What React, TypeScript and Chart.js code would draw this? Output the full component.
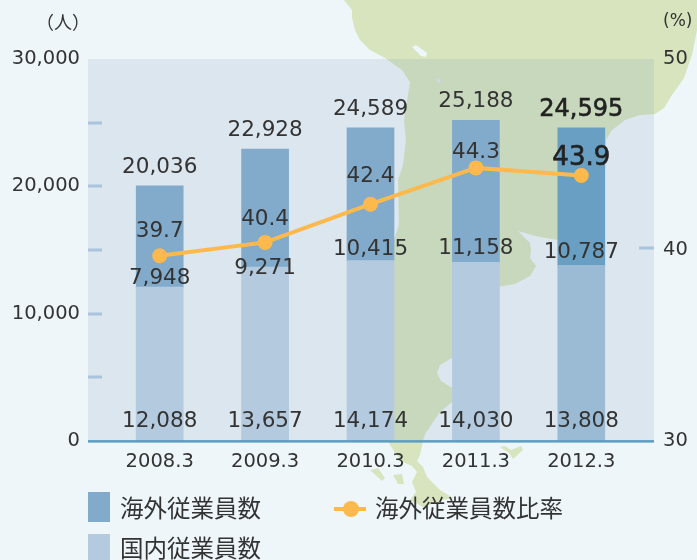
import React, { useEffect, useRef } from "react";
import { Chart, registerables } from "chart.js";

Chart.register(...registerables);

const categories = ["2008.3", "2009.3", "2010.3", "2011.3", "2012.3"];
const domestic = [12088, 13657, 14174, 14030, 13808];
const overseas = [7948, 9271, 10415, 11158, 10787];
const totals = [20036, 22928, 24589, 25188, 24595];
const ratio = [39.7, 40.4, 42.4, 44.3, 43.9];

const LAT = "'DejaVu Sans', sans-serif";
const CJK = "'Noto Sans CJK JP', sans-serif";
const INK = "#333333";

const fmt = (n: number) => n.toLocaleString("en-US");

function land(ctx: CanvasRenderingContext2D) {
  const poly = (pts: number[][]) => {
    ctx.beginPath();
    pts.forEach(([x, y], i) => (i ? ctx.lineTo(x, y) : ctx.moveTo(x, y)));
    ctx.closePath();
    ctx.fill();
  };
  ctx.fillStyle = "#d7e4bd";
  poly([
    [344, 0], [697, 0], [697, 30], [692, 55], [684, 78], [672, 95], [664, 108], [655, 114], [640, 115],
    [625, 120], [612, 130], [606, 140], [605, 172], [600, 180], [575, 238], [558, 240], [535, 236], [518, 231],
    [530, 243], [531, 250], [530, 258], [536, 266], [530, 276], [515, 284], [480, 290], [452, 358], [440, 365],
    [437, 373], [441, 381], [452, 388], [452, 402], [440, 412], [425, 434], [423, 441], [420, 455], [417, 461],
    [423, 467], [427, 477], [440, 490], [453, 498], [443, 500], [423, 507], [410, 500], [416, 492], [412, 482],
    [417, 472], [412, 466], [403, 462], [395, 453], [388, 441], [388, 300], [394, 240], [399, 225], [398, 180],
    [403, 165], [406, 140], [404, 120], [408, 95], [410, 82], [402, 70], [385, 58], [370, 50], [360, 40],
    [355, 30], [352, 18], [352, 10],
  ]);
  poly([[370, 470], [378, 468], [385, 478], [382, 481]]);
  poly([[393, 475], [402, 474], [404, 484], [398, 484]]);
  poly([[500, 447], [505, 446], [511, 450], [521, 446], [523, 450], [513, 459], [509, 453]]);
  ctx.fillStyle = "#eef6fa";
  poly([[412, 47], [416, 45], [427, 53], [426, 57], [421, 56]]);
  ctx.fillStyle = "#dbe7ef";
  poly([[436, 79], [439, 78], [441, 82], [438, 83]]);
}

const decor = {
  id: "decor",
  beforeDraw(chart: any) {
    const { ctx, scales } = chart;
    const yl = scales.y;
    const yr = scales.y1;
    ctx.save();
    ctx.fillStyle = "#eef6fa";
    ctx.fillRect(0, 0, chart.width, chart.height);
    land(ctx);
    ctx.fillStyle = "rgba(132,163,189,0.18)";
    const top = yl.getPixelForValue(30000);
    const bot = yl.getPixelForValue(0);
    ctx.fillRect(88, top, 566, bot - top);
    ctx.fillStyle = "#a9c4dc";
    [5000, 10000, 15000, 20000, 25000].forEach((v) => {
      ctx.fillRect(88, Math.round(yl.getPixelForValue(v)) - 1.5, 14, 3);
    });
    ctx.fillRect(639, Math.round(yr.getPixelForValue(40)) - 3.5, 15, 3);
    ctx.restore();
  },
  afterDatasetsDraw(chart: any) {
    const { ctx, scales } = chart;
    const yl = scales.y;
    const yr = scales.y1;
    const bot = yl.getPixelForValue(0);
    ctx.save();
    ctx.fillStyle = "#5c9dc2";
    ctx.fillRect(88, bot - 1, 566, 2.5);

    const text = (s: string, x: number, y: number, font: string, color = INK, align: CanvasTextAlign = "center", heavy = false) => {
      ctx.font = font;
      ctx.fillStyle = color;
      ctx.textAlign = align;
      ctx.textBaseline = "middle";
      ctx.fillText(s, x, y);
      if (heavy) {
        ctx.strokeStyle = color;
        ctx.lineWidth = 0.6;
        ctx.strokeText(s, x, y);
      }
    };

    const xs = chart.getDatasetMeta(0).data.map((e: any) => e.x);
    const lastIdx = categories.length - 1;
    // offsets of the in-bar figures follow the reference's hand placement
    const overseasShift = [-8.5, 1.5, -11.5, -13.5, -12.5];
    const ratioShift = [-24, -22.5, -27.5, -15.5, -17];
    categories.forEach((_, i) => {
      const bold = i === lastIdx;
      text(
        fmt(totals[i]),
        xs[i],
        yl.getPixelForValue(totals[i]) - 18.5,
        bold ? `24px ${LAT}` : `21.5px ${LAT}`,
        bold ? "#222222" : INK,
        "center",
        bold,
      );
      text(fmt(overseas[i]), xs[i], yl.getPixelForValue(domestic[i]) + overseasShift[i], `21.5px ${LAT}`);
      text(fmt(domestic[i]), xs[i], bot - 20, `21.5px ${LAT}`);
      text(
        ratio[i].toFixed(1),
        xs[i],
        yr.getPixelForValue(ratio[i]) + ratioShift[i],
        bold ? `26px ${LAT}` : `21.5px ${LAT}`,
        bold ? "#222222" : INK,
        "center",
        bold,
      );
    });

    text("（人）", 90, 22, `18px ${CJK}`, INK, "right");
    text("(%)", 663, 22, `17px ${LAT}`, INK, "left");

    // legend, taken from the datasets' own labels and colours
    const ds = chart.data.datasets;
    const barOver = ds[1];
    const barDom = ds[0];
    const line = ds[2];
    ctx.fillStyle = "#82aacb";
    ctx.fillRect(88, 492, 22, 30);
    ctx.fillStyle = "#b3cadf";
    ctx.fillRect(88, 534, 22, 30);
    text(barOver.label, 120, 508, `23.5px ${CJK}`, INK, "left");
    text(barDom.label, 120, 548, `23.5px ${CJK}`, INK, "left");
    ctx.fillStyle = line.borderColor;
    ctx.fillRect(334, 507, 32, 4);
    ctx.beginPath();
    ctx.arc(351, 509, 8, 0, Math.PI * 2);
    ctx.fill();
    text(line.label, 375, 508, `23.5px ${CJK}`, INK, "left");
    ctx.restore();
  },
};

export default function App() {
  const ref = useRef<HTMLCanvasElement>(null);
  useEffect(() => {
    const chart = new Chart(ref.current!, {
      type: "bar",
      data: {
        labels: categories,
        datasets: [
          {
            label: "国内従業員数",
            data: domestic,
            backgroundColor: ["#b3cadf", "#b3cadf", "#b3cadf", "#b3cadf", "#9bbad3"],
            stack: "s",
            barThickness: 47,
            order: 2,
          },
          {
            label: "海外従業員数",
            data: overseas,
            backgroundColor: ["#82aacb", "#82aacb", "#82aacb", "#82aacb", "#689fc2"],
            stack: "s",
            barThickness: 47,
            order: 2,
          },
          {
            type: "line",
            label: "海外従業員数比率",
            data: ratio,
            yAxisID: "y1",
            borderColor: "#fdb94c",
            backgroundColor: "#fdb94c",
            borderWidth: 4,
            pointRadius: 7.5,
            pointBackgroundColor: "#fdb94c",
            pointBorderWidth: 0,
            tension: 0,
            order: 1,
          },
        ] as any,
      },
      options: {
        responsive: false,
        animation: false,
        layout: { padding: { left: 0, right: 0, top: 59, bottom: 85.5 } },
        plugins: { legend: { display: false }, tooltip: { enabled: false } },
        scales: {
          x: {
            stacked: true,
            grid: { display: false },
            border: { display: false },
            ticks: { font: { family: LAT, size: 19.5 }, color: INK, padding: 1, maxRotation: 0 },
          },
          y: {
            stacked: true,
            min: 0,
            max: 30000,
            afterFit: (s: any) => { s.width = 107; },
            grid: { display: false, drawTicks: false },
            border: { display: false },
            ticks: {
              stepSize: 10000,
              padding: 27,
              font: { family: LAT, size: 19.5 },
              color: INK,
              callback: (v: any) => fmt(Number(v)),
            },
          },
          y1: {
            position: "right",
            min: 30,
            max: 50,
            afterFit: (s: any) => { s.width = 63; },
            grid: { display: false, drawTicks: false },
            border: { display: false },
            ticks: { stepSize: 10, padding: 29, font: { family: LAT, size: 19.5 }, color: INK },
          },
        },
      },
      plugins: [decor],
    } as any);
    return () => chart.destroy();
  }, []);
  return (
    <div style={{ position: "fixed", left: 0, top: 0, width: 697, height: 560, overflow: "hidden" }}>
      <canvas ref={ref} width={697} height={560} style={{ display: "block" }} />
    </div>
  );
}
